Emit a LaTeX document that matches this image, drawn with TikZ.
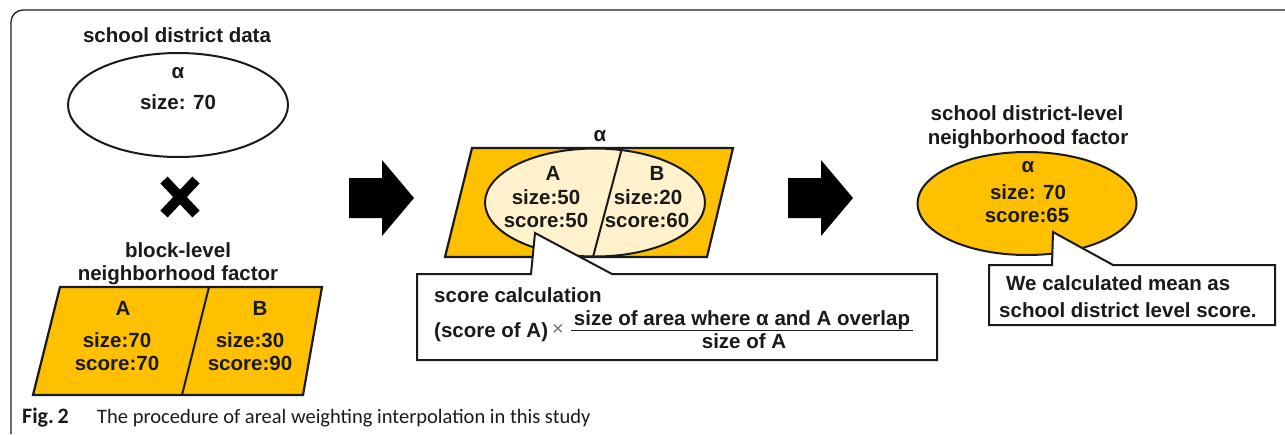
\documentclass[tikz,border=0pt]{standalone}
\usepackage{fontspec}
\setmainfont{Liberation Sans}
\newfontfamily\capfont{Carlito}
\usetikzlibrary{positioning,shapes.geometric}
\definecolor{gold}{HTML}{FFC000}
\definecolor{cream}{HTML}{FFF2CC}
\definecolor{ink}{HTML}{1A1A1A}

\begin{document}
\begin{tikzpicture}[x=1pt,y=-1pt,
  txt/.style={font=\fontsize{20.5}{24}\selectfont\bfseries,text=ink,inner sep=0pt,anchor=base},
  oval/.style={ellipse,draw=ink,line width=2pt,minimum width=220,minimum height=104},
  outl/.style={draw=ink,line width=2.2pt},
  capt/.style={font=\capfont\fontsize{20.5}{22}\selectfont,text=ink,inner sep=0pt,anchor=base west}]
\useasboundingbox (0,0) rectangle (1285,434);
% frame of the figure
\draw[line width=1.3pt,draw=ink,rounded corners=12pt] (11,434) -- (11,10) -- (1285,10);
% school district data
\node[txt] (srcT) at (177,42) {school district data};
\node[oval,fill=white] (src) at (178,105) {};
\node[txt] (srcA) at (178,78) {α};
\node[txt] (srcS) at (178,109) {size: 70};
\draw[line width=10pt,draw=black] (164,180) -- (196,214) (196,180) -- (164,214);
% block-level factor
\node[txt] (blkT1) at (178,257) {block-level};
\node[txt] (blkT2) at (178,280) {neighborhood factor};
\coordinate (bTL) at (60,287); \coordinate (bTR) at (322,287);
\coordinate (bBR) at (303,395); \coordinate (bBL) at (33,395);
\draw[outl,fill=gold] (bTL) -- (bTR) -- (bBR) -- (bBL) -- cycle;
\draw[outl,line width=2pt] (209,287) -- (182,395);
\node[txt] (bA) at (123,315) {A};
\node[txt] (bAs) at (117,347) {size:70};
\node[txt] (bAc) at (117,370) {score:70};
\node[txt] (bB) at (260,315) {B};
\node[txt] (bBs) at (250,347) {size:30};
\node[txt] (bBc) at (250,370) {score:90};
% big arrows
\foreach \dx in {0,439}
  \fill[black,xshift=\dx] (349,178) -- (382,178) -- (382,160) -- (414,198)
    -- (382,236) -- (382,218) -- (349,218) -- cycle;
% overlap of alpha with A and B
\node[txt] (ovT) at (600,141) {α};
\coordinate (mTL) at (472,148); \coordinate (mTR) at (733,148);
\coordinate (mBR) at (707,257); \coordinate (mBL) at (445,257);
\draw[outl,fill=gold] (mTL) -- (mTR) -- (mBR) -- (mBL) -- cycle;
\node[oval,fill=cream,minimum height=108] (ov) at (595,202.5) {};
\draw[outl,line width=2pt] (622,148) -- (593,257);
\node[txt] (oA) at (553,180) {A};
\node[txt] (oAs) at (546,204) {size:50};
\node[txt] (oAc) at (546,227) {score:50};
\node[txt] (oB) at (657,180) {B};
\node[txt] (oBs) at (648,204) {size:20};
\node[txt] (oBc) at (647,227) {score:60};
% callout: score calculation
\coordinate (tip1) at (535,233);
\draw[outl,line width=2pt,fill=white] (417,274) -- (531,274) -- (tip1) -- (612,274)
  -- (937,274) -- (937,360) -- (417,360) -- cycle;
\node[txt,anchor=base west] (calcT) at (434,302) {score calculation};
\node[txt,anchor=base west] (calcA) at (434,337) {(score of A)};
\node[inner sep=0pt,font=\fontsize{20}{24}\selectfont,text=black!55] (times) at (558,330) {×};
\node[txt] (num) at (742,325) {size of area where α and A overlap};
\node[txt] (den) at (744,348) {size of A};
\draw[line width=1.6pt,draw=ink] (571,330.5) -- (913,330.5);
% school district-level result
\node[txt] (resT1) at (1027,120) {school district-level};
\node[txt] (resT2) at (1028,144) {neighborhood factor};
\node[oval,fill=gold,minimum width=219,minimum height=103] (res) at (1027,203.5) {};
\node[txt] (rA) at (1028,172) {α};
\node[txt] (rS) at (1028,199) {size: 70};
\node[txt] (rC) at (1027,222) {score:65};
% callout: mean
\coordinate (tip2) at (1053,232);
\draw[outl,line width=2pt,fill=white] (989,265) -- (1052,265) -- (tip2) -- (1113,265)
  -- (1275,265) -- (1275,325) -- (989,325) -- cycle;
\node[txt,anchor=base west] (meanT1) at (1006,290) {We calculated mean as};
\node[txt,anchor=base west] (meanT2) at (999,317) {school district level score.};
% caption
\node[capt,font=\capfont\bfseries\fontsize{22}{24}\selectfont] (figno) at (22,423) {Fig.\,2};
\node[capt] (cap) at (97,423) {The procedure of areal weighting interpolation in this study};
\end{tikzpicture}
\end{document}
